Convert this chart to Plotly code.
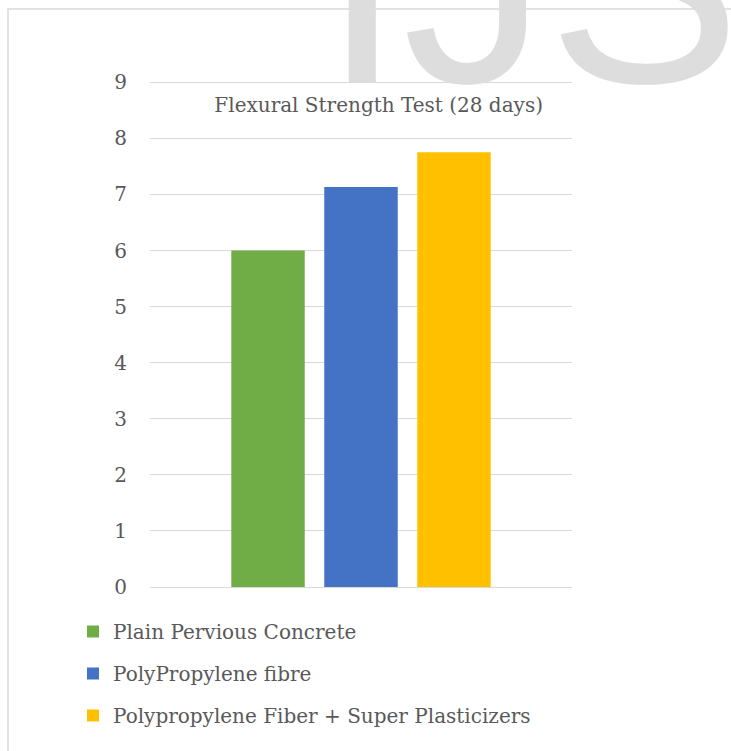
import plotly.graph_objects as go

category = ["Flexural Strength"]
series_names = ["Plain Pervious Concrete", "PolyPropylene fibre", "Polypropylene Fiber + Super Plasticizers"]
series_values = [6.0, 7.13, 7.75]
series_colors = ["#70AD47", "#4472C4", "#FFC000"]
y_ticks = [0, 1, 2, 3, 4, 5, 6, 7, 8, 9]
title_text = "Flexural Strength Test (28 days)"
watermark = "IJS"

FONT = "DejaVu Serif"
TXT = "#595959"

fig = go.Figure()
for i, (name, val, col) in enumerate(zip(series_names, series_values, series_colors)):
    fig.add_trace(go.Bar(x=category, y=[val], name=name, marker=dict(color=col, line=dict(width=0)),
                         legendgroup=f"g{i}"))

W, H = 731, 751
L, R, T, B = 150, 159, 80, 164

fig.update_layout(
    width=W, height=H,
    margin=dict(l=L, r=R, t=T, b=B, autoexpand=False),
    paper_bgcolor="white", plot_bgcolor="white",
    barmode="group", bargap=0.339, bargroupgap=0.21,
    font=dict(family=FONT, color=TXT, size=20),
    title=dict(text=title_text, x=0.518, xanchor="center", y=1 - 105 / H, yanchor="middle",
               font=dict(family=FONT, size=20, color=TXT)),
    xaxis=dict(showticklabels=False, showgrid=False, zeroline=False, showline=False, ticks=""),
    yaxis=dict(range=[0, 9.04], tickvals=y_ticks, showgrid=True, gridcolor="#D9D9D9", gridwidth=1,
               zeroline=True, zerolinecolor="#D9D9D9", zerolinewidth=1, showline=False,
               tickfont=dict(family=FONT, size=20, color=TXT), ticklabelstandoff=22),
    legend=dict(orientation="v", xref="container", yref="container", x=73 / W, y=1 - 612 / H,
                xanchor="left", yanchor="top", traceorder="grouped", tracegroupgap=13,
                font=dict(family=FONT, size=20, color=TXT), bgcolor="rgba(0,0,0,0)"),
    showlegend=True,
)

pw = W - L - R
ph = H - T - B
fig.add_shape(type="path", xref="paper", yref="paper",
              path=f"M {(8 - L) / pw} -1 L {(8 - L) / pw} {(H - B - 9) / ph} L 2 {(H - B - 9) / ph}",
              line=dict(color="#D9D9D9", width=1.5), layer="below")

fig.add_annotation(text=watermark, xref="paper", yref="paper", x=(531 - L) / pw, y=(H - B - 145) / ph,
                   xanchor="center", yanchor="bottom", showarrow=False,
                   font=dict(family="Liberation Sans", size=290, color="#DDDDDD"))

fig.write_html("out.html")
